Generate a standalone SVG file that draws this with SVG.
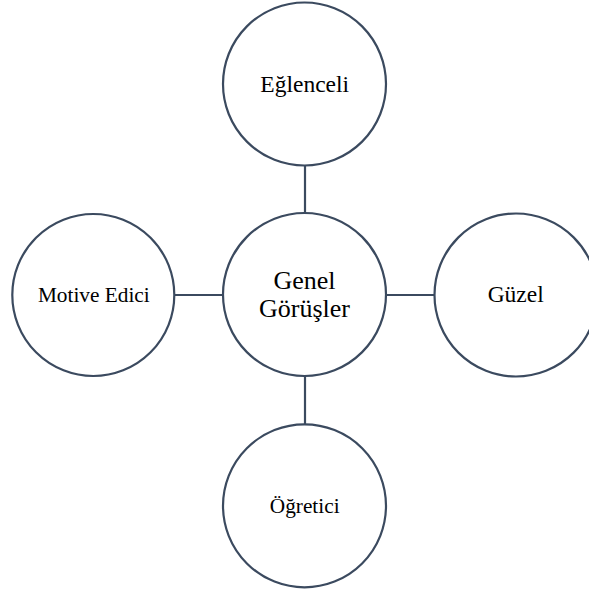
<svg xmlns="http://www.w3.org/2000/svg" width="589" height="589" viewBox="0 0 589 589">
<style>
.c{fill:#fff;stroke:#3b4a5f;stroke-width:2.2}
.l{stroke:#3b4a5f;stroke-width:2.2;fill:none}
text{font-family:'Liberation Serif','Times New Roman',serif;fill:#000;text-anchor:middle}
.a{font-size:23.5px}
.m{font-size:21.3px}
.b{font-size:26px}
</style>
<rect width="589" height="589" fill="#fff"/>
<g id="connectors">
<line class="l" x1="305" y1="165" x2="305" y2="213"/>
<line class="l" x1="174" y1="295" x2="223" y2="295"/>
<line class="l" x1="386" y1="295" x2="434" y2="295"/>
<line class="l" x1="305" y1="376" x2="305" y2="424"/>
</g>
<g id="n-top"><circle class="c" cx="304.5" cy="84" r="81.5"/><text class="a" x="304.7" y="91.7">Eğlenceli</text></g>
<g id="n-center"><circle class="c" cx="304.5" cy="294.5" r="81.5"/><text class="b" x="304.5" y="289.3">Genel</text><text class="b" x="304.5" y="316.7">Görüşler</text></g>
<g id="n-left"><circle class="c" cx="93.3" cy="295" r="81"/><text class="m" x="93.8" y="301.7">Motive Edici</text></g>
<g id="n-right"><circle class="c" cx="516" cy="295" r="81.5"/><text class="a" x="515.7" y="301.7">Güzel</text></g>
<g id="n-bottom"><circle class="c" cx="304.5" cy="505.8" r="81.5"/><text class="m" x="304.7" y="512.7">Öğretici</text></g>
</svg>
